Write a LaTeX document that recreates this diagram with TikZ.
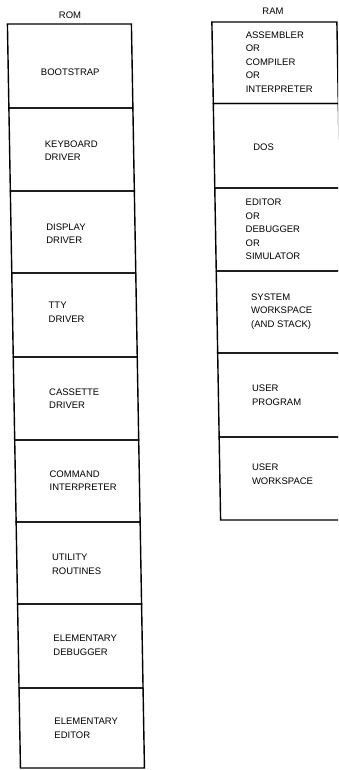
\documentclass[tikz,border=0pt]{standalone}
\usepackage{fontspec}
\setmainfont{Liberation Sans}
\begin{document}
\begin{tikzpicture}[x=1pt,y=1pt,
  cell/.style={draw=black, line width=1.4pt, inner sep=0pt, transform shape},
  romcell/.style={cell, minimum width=124pt},
  ramcell/.style={cell, minimum width=125pt},
  txt/.style={anchor=west, align=left, inner sep=0pt, font=\fontsize{9.5}{13.6}\selectfont},
  ctxt/.style={anchor=center, align=center, inner sep=0pt, font=\fontsize{9.5}{13.6}\selectfont},
  title/.style={anchor=center, inner sep=0pt, font=\fontsize{9.5}{11}\selectfont}]
\useasboundingbox (0,0) rectangle (338,-770);
\clip (0,0) rectangle (338,-770);
\node[title] (romt) at (70,-15) {ROM};
\node[title] (ramt) at (273,-11) {RAM};
\begin{scope}[xslant=-0.0175]
  % ROM column
  \node[romcell, minimum height=84pt] (r1) at (69,-66) {};
  \node[romcell, minimum height=83pt] (r2) at (69,-149.5) {};
  \node[romcell, minimum height=82pt] (r3) at (69,-232) {};
  \node[romcell, minimum height=84pt] (r4) at (69,-315) {};
  \node[romcell, minimum height=83pt] (r5) at (69,-398.5) {};
  \node[romcell, minimum height=82pt] (r6) at (69,-481) {};
  \node[romcell, minimum height=82pt] (r7) at (69,-563) {};
  \node[romcell, minimum height=84pt] (r8) at (69,-646) {};
  \node[romcell, minimum height=80pt] (r9) at (69,-728) {};
  \node[ctxt] (t1) at (69,-72) {BOOTSTRAP};
  \node[txt] (t2) at (42,-150.5) {KEYBOARD\\DRIVER};
  \node[txt] (t3) at (42,-233.5) {DISPLAY\\DRIVER};
  \node[txt] (t4) at (43,-312) {TTY\\DRIVER};
  \node[txt] (t5) at (42,-398.5) {CASSETTE\\DRIVER};
  \node[txt] (t6) at (41,-480.5) {COMMAND\\INTERPRETER};
  \node[txt] (t7) at (42,-564.5) {UTILITY\\ROUTINES};
  \node[txt] (t8) at (42,-645) {ELEMENTARY\\DEBUGGER};
  \node[txt] (t9) at (41.5,-728.5) {ELEMENTARY\\EDITOR};
  % RAM column
  \node[ramcell, minimum height=81.5pt] (m1) at (274,-62.75) {};
  \node[ramcell, minimum height=84.5pt] (m2) at (274,-145.75) {};
  \node[ramcell, minimum height=83pt] (m3) at (274,-229.5) {};
  \node[ramcell, minimum height=82pt] (m4) at (274,-312) {};
  \node[ramcell, minimum height=84pt] (m5) at (274,-395) {};
  \node[ramcell, minimum height=83pt] (m6) at (274,-478.5) {};
  \node[txt] (u1) at (244.5,-62) {ASSEMBLER\\OR\\COMPILER\\OR\\INTERPRETER};
  \node[txt] (u2) at (250.5,-147) {DOS};
  \node[txt] (u3) at (241.5,-229.5) {EDITOR\\OR\\DEBUGGER\\OR\\SIMULATOR};
  \node[txt] (u4) at (245.5,-311.5) {SYSTEM\\WORKSPACE\\(AND STACK)};
  \node[txt] (u5) at (245,-395) {USER\\PROGRAM};
  \node[txt] (u6) at (243.5,-474.5) {USER\\WORKSPACE};
\end{scope}
\end{tikzpicture}
\end{document}
